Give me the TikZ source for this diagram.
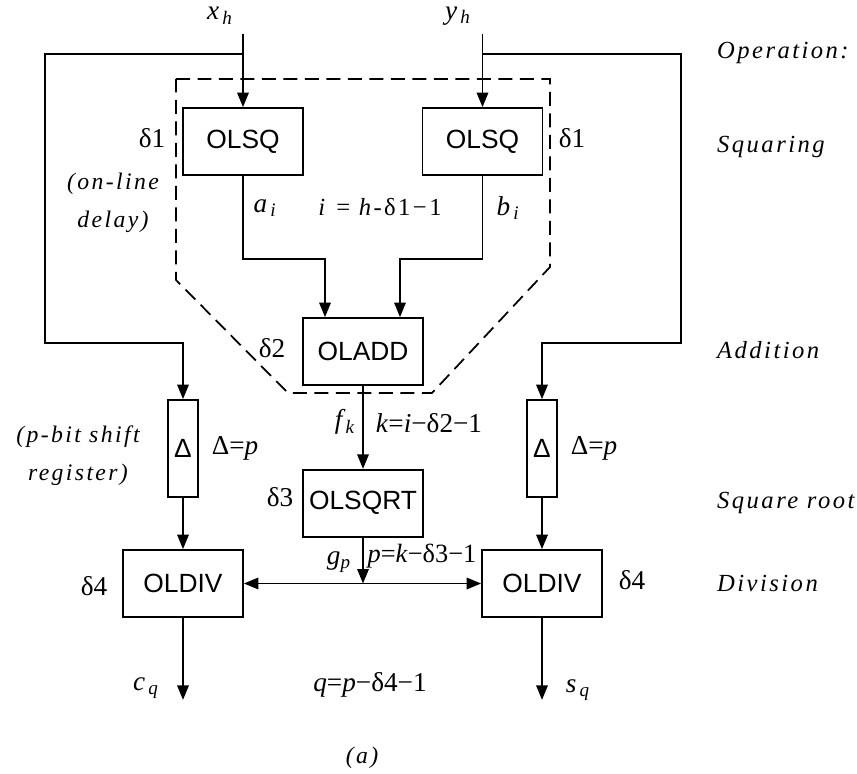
\documentclass[tikz,border=0pt]{standalone}
\usepackage{fontspec}
\setmainfont{Liberation Serif}
\setsansfont{Liberation Sans}
\newfontfamily\spfont[LetterSpace=10]{Liberation Serif}
\usetikzlibrary{positioning, arrows.meta}
\newcommand{\vs}[2]{\textit{#1}\textsubscript{\,\textit{#2}}}

\begin{document}
\begin{tikzpicture}[
    x=0.02cm, y=-0.02cm,
    node distance=1.66cm and 2.4cm,
    >={Triangle[length=2.9mm, width=2.3mm]},
    blk/.style={rectangle, draw, line width=1pt, inner sep=0pt, minimum width=2.4cm, minimum height=1.34cm, font=\sffamily\fontsize{15}{17}\selectfont},
    dly/.style={blk, minimum width=0.6cm, minimum height=1.94cm},
    wire/.style={line width=1pt},
    lbl/.style={font=\fontsize{15.5}{22}\selectfont, align=center},
    cmt/.style={lbl, font=\spfont\itshape\fontsize{13.5}{21.5}\selectfont},
    op/.style={font=\spfont\itshape\fontsize{14}{17}\selectfont, anchor=west}
]
\useasboundingbox (0,0) rectangle (857,773);

% operators
\node[blk] (sqa) at (243,141.5) {OLSQ};
\node[blk] (sqb) at (482.5,141.5) {OLSQ};
\node[blk] (add) at (363,351.5) {OLADD};
\node[blk, below=of add] (sqrt) {OLSQRT};
\node[dly] (dla) at (183,448.5) {Δ};
\node[dly] (dlb) at (542,448.5) {Δ};
\node[blk] (diva) at (183,583.5) {OLDIV};
\node[blk] (divb) at (542,583.5) {OLDIV};

% on-line delay region
\draw[wire, dash pattern=on 2.8mm off 1.5mm] (176,79) -- (550,79) -- (550,267) -- (432,393) -- (288,393) -- (176,280) -- cycle;

% inputs
\coordinate (xin) at (243,34);
\coordinate (xbr) at (243,54);
\coordinate (yin) at (sqb.north |- xin);
\coordinate (ybr) at (sqb.north |- xbr);
\coordinate (lbend) at (45,343);
\coordinate (rbend) at (681,343);
\node[lbl] (xl) at (220,16) {\vs{x}{h}};
\node[lbl] (yl) at (458,16) {\vs{y}{h}};
\draw[wire,->] (xin) -- (sqa);
\draw[wire,->] (yin) -- (sqb);
\draw[wire,->] (xbr) -| (lbend) -| (dla.north);
\draw[wire,->] (ybr) -| (rbend) -| (dlb.north);

% squaring -> addition
\coordinate (addl) at ([xshift=-0.76cm]add.north);
\coordinate (addr) at ([xshift=0.74cm]add.north);
\draw[wire,->] (sqa.south) -- ++(0,83) -| (addl);
\draw[wire,->] (sqb.south) -- ++(0,83) -| (addr);
\node[lbl] at (265,208) {\vs{a}{i}};
\node[lbl] at (508,208) {\vs{b}{i}};
\node[lbl, font=\spfont\fontsize{14}{17}\selectfont] at (380,207) {\textit{i} = \textit{h}-δ1−1};

% addition -> square root -> division
\coordinate (gp) at (sqrt.south |- diva.east);
\draw[wire,->] (add) -- (sqrt);
\draw[wire,->] (sqrt) -- (gp);
\draw[wire,<->] (diva) -- (divb);
\draw[wire,->] (dla) -- (diva);
\draw[wire,->] (dlb) -- (divb);
\node[lbl] at (345,422) {\textit{f}\textsubscript{\textit{k}}};
\node[lbl] at (429,423) {\textit{k}=\textit{i}−δ2−1};
\node[lbl] at (339,562) {\textit{g}\textsubscript{\textit{p}}};
\node[lbl, font=\fontsize{15}{20}\selectfont] at (422,556) {\textit{p}=\textit{k}−δ3−1};

% outputs
\draw[wire,->] (diva.south) -- ++(0,82) coordinate (cq);
\draw[wire,->] (divb.south) -- ++(0,82) coordinate (sq);
\node[lbl] at (146,688) {\vs{c}{q}};
\node[lbl] at (578,690) {\vs{s}{q}};
\node[lbl] at (370,685) {\textit{q}=\textit{p}−δ4−1};

% delays
\node[lbl] at (152,138) {δ1};
\node[lbl] at (572,138) {δ1};
\node[lbl] at (272,348) {δ2};
\node[lbl] at (280,497) {δ3};
\node[lbl] at (94,586) {δ4};
\node[lbl] at (632,580) {δ4};
\node[lbl] at (235,448) {Δ=\textit{p}};
\node[lbl] at (594,448) {Δ=\textit{p}};
\node[cmt] at (113,203) {(on-line\\delay)};
\node[cmt] at (78,456) {(\textit{p}-bit shift\\register)};

% operation column
\node[op] at (711,53) {Operation:};
\node[op] at (711,147) {Squaring};
\node[op] at (711,350) {Addition};
\node[op] at (711,503) {Square root};
\node[op] at (711,583) {Division};

\node[cmt] at (362,758) {(a)};
\end{tikzpicture}
\end{document}
